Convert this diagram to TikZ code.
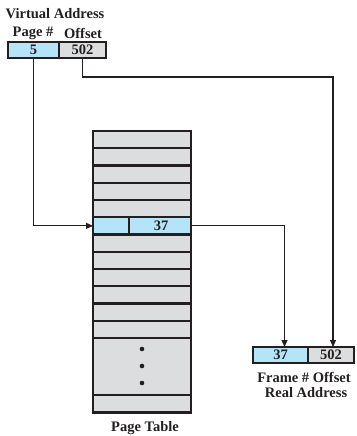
\documentclass[tikz,border=0pt]{standalone}
\usepackage{fontspec}
\setmainfont{Liberation Serif}
\usepackage{xcolor}
\usepackage{tikz}
\usetikzlibrary{arrows.meta,positioning,calc}

\definecolor{inkdark}{HTML}{231F20}
\definecolor{cellblue}{HTML}{B5E4F8}
\definecolor{cellgray}{HTML}{DCDDDE}

\begin{document}
\begin{tikzpicture}[
    x=1pt, y=-1pt,
    lbl/.style={font=\bfseries\fontsize{14.5}{16}\selectfont, text=inkdark, inner sep=0pt},
    cell/.style={rectangle, draw=inkdark, line width=2pt, minimum height=16pt, inner sep=0pt, outer sep=0pt,
        font=\bfseries\fontsize{14.5}{16}\selectfont, text=inkdark, fill=#1},
    cell/.default=cellgray,
    tabrow/.style={rectangle, draw=inkdark, line width=2.2pt, minimum width=98pt, minimum height=17.25pt,
        inner sep=0pt, outer sep=0pt, fill=#1},
    tabrow/.default=cellgray,
    arr/.style={-{Triangle[length=7pt,width=6pt]}, line width=1.1pt, color=inkdark},
    wire/.style={line width=1.1pt, color=inkdark}
]
    \useasboundingbox (0,0) rectangle (356,436);

    % Virtual address
    \node[lbl] (vaddr) at (55,14) {Virtual Address};
    \node[lbl] (vpagelbl) at (33,33) {Page \#};
    \node[lbl] (vofflbl) at (83,33) {Offset};
    \node[cell=cellblue, minimum width=51pt] (vpage) at (33.5,50) {5};
    \node[cell, minimum width=47pt] (voff) at (82.5,50) {502};

    % Page table
    \foreach \i in {0,...,4,6,7,...,11}
        \node[tabrow] (row\i) at (142,{139.625+17.25*\i}) {};
    \node[tabrow=cellblue] (row5) at (142,{139.625+17.25*5}) {};
    \draw[wire] ([xshift=36pt]row5.north west) -- ([xshift=36pt]row5.south west);
    \node[lbl] (frameno) at (161,225.9) {37};
    \node[tabrow, minimum height=57pt] (rowdots) at (142,366.5) {};
    \node[tabrow, minimum height=17.5pt] (rowlast) at (142,403.75) {};
    \foreach \d in {349,366,383}
        \fill[inkdark] (142,\d) circle (2.3pt);
    \node[lbl] (ptable) at (145,428) {Page Table};

    % Real address
    \node[cell=cellblue, minimum width=55pt] (rframe) at (280.5,355) {37};
    \node[cell, minimum width=46pt] (roff) at (331,355) {502};
    \node[lbl] (rfields) at (304,377) {Frame \# Offset};
    \node[lbl] (raddr) at (306,393) {Real Address};

    % Arrows
    \draw[arr] (vpage.south) |- (row5.west);
    \draw[arr] (voff.south) -- ++(0,19) -| ([xshift=2pt]roff.north);
    \draw[arr] (row5.east) -| ([xshift=4pt]rframe.north);

\end{tikzpicture}
\end{document}
